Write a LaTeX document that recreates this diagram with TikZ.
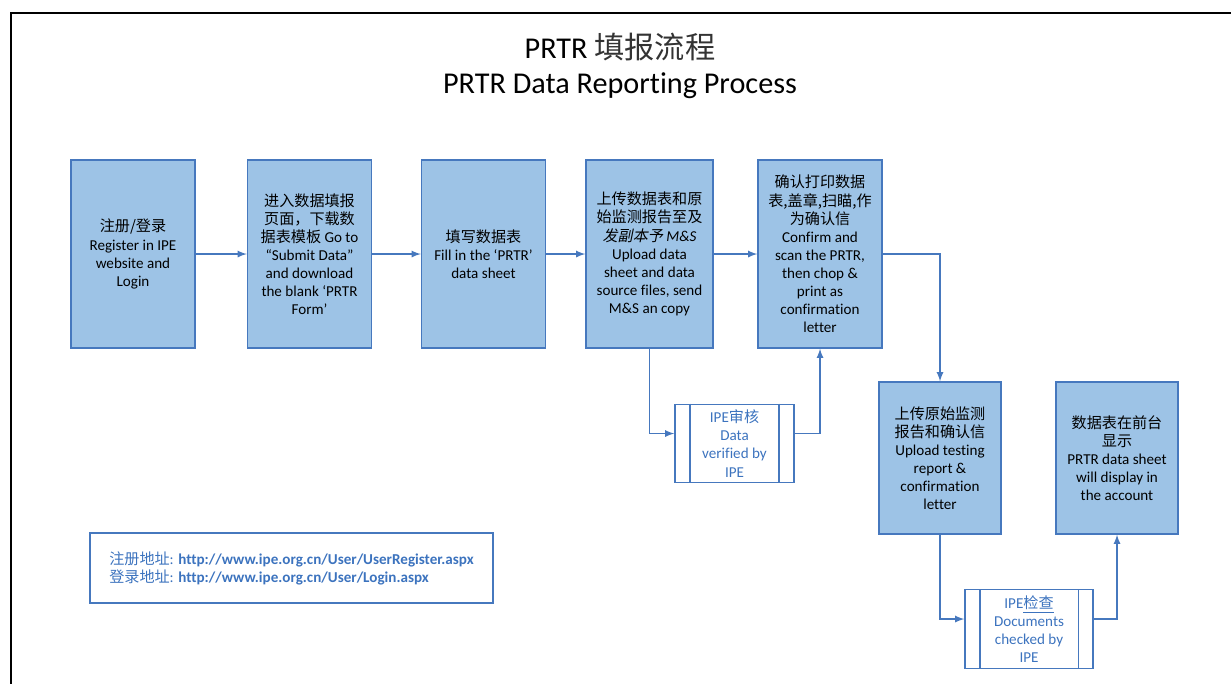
\documentclass[tikz,border=0pt]{standalone}
\usepackage{fontspec}
\setmainfont{Carlito}[Ligatures=NoCommon]
\newfontfamily\cjk{Noto Sans CJK SC}
\newfontfamily\cjkit{Noto Sans CJK SC}[FakeSlant=0.2]
\definecolor{boxfill}{RGB}{157,195,230}
\definecolor{boxline}{RGB}{70,120,190}
\definecolor{ipetext}{RGB}{60,115,190}
\tikzset{
   stepbox/.style={draw=boxline, line width=0.8pt, fill=boxfill, align=center,
      minimum width=2.48cm, minimum height=3.76cm, inner sep=1pt,
      font=\fontsize{8.6}{10.3}\selectfont},
   checkbox/.style={draw=boxline, line width=0.8pt, align=center, text=ipetext,
      minimum height=1.57cm, inner sep=1pt, font=\fontsize{8.6}{10.3}\selectfont},
   arr/.style={draw=boxline, line width=0.8pt, ->, >=latex}
}
\begin{document}
\begin{tikzpicture}[x=0.02cm, y=-0.02cm]
   \useasboundingbox (0,0) rectangle (1231,684);
   \draw[line width=1.1pt] (1231,13) -- (11,13) -- (11,684);

   \node[anchor=base, font=\fontsize{17.2}{18}\selectfont] (T1) at (620,58) {PRTR {\cjk\color{black!80} 填报流程}};
   \node[anchor=base, font=\fontsize{17.2}{18}\selectfont] (T2) at (620,93) {PRTR Data Reporting Process};

   \node[stepbox] (A) at (133,254) {{\cjk 注册/登录}\\Register in IPE\\website and\\Login};
   \node[stepbox] (B) at (309.5,254) {{\cjk 进入数据填报}\\{\cjk 页面，下载数}\\{\cjk 据表模板} Go to\\“Submit Data”\\and download\\the blank ‘PRTR\\Form’};
   \node[stepbox] (C) at (483.5,254) {{\cjk 填写数据表}\\Fill in the ‘PRTR’\\data sheet};
   \node[stepbox, minimum width=2.54cm] (D) at (649.5,254) {{\cjk 上传数据表和原}\\{\cjk 始监测报告至及}\\{\cjkit 发副本予} \textit{M\&S}\\Upload data\\sheet and data\\source files, send\\M\&S an copy};
   \node[stepbox] (E) at (820,254) {{\cjk 确认打印数据}\\{\cjk 表,盖章,扫瞄,作}\\{\cjk 为确认信}\\Confirm and\\scan the PRTR,\\then chop \&\\print as\\confirmation\\letter};
   \node[stepbox, minimum width=2.44cm, minimum height=3.04cm] (F) at (940,458) {{\cjk 上传原始监测}\\{\cjk 报告和确认信}\\Upload testing\\report \&\\confirmation\\letter};
   \node[stepbox, minimum width=2.44cm, minimum height=3.04cm] (G) at (1117,458) {{\cjk 数据表在前台}\\{\cjk 显示}\\PRTR data sheet\\will display in\\the account};

   \node[checkbox, minimum width=2.38cm] (V) at (734.5,443.5) {IPE{\cjk 审核}\\Data\\verified by\\IPE};
   \node[checkbox, minimum width=2.56cm] (W) at (1029,629) {IPE{\cjk\underline{检查}}\\Documents\\checked by\\IPE};
   \foreach \n in {V,W} {
      \draw[boxline, line width=0.8pt] ([xshift=.31cm]\n.north west) -- ([xshift=.31cm]\n.south west);
      \draw[boxline, line width=0.8pt] ([xshift=-.31cm]\n.north east) -- ([xshift=-.31cm]\n.south east);
   }

   \node[draw=boxline, line width=0.8pt, align=left, text=ipetext, minimum width=8.06cm, minimum height=1.4cm,
      font=\fontsize{8.6}{10.3}\selectfont] (U) at (291.5,568)
      {{\cjk 注册地址}: \textbf{http://www.ipe.org.cn/User/UserRegister.aspx}\\{\cjk 登录地址}: \textbf{http://www.ipe.org.cn/User/Login.aspx}};

   \draw[arr] (A) -- (B);
   \draw[arr] (B) -- (C);
   \draw[arr] (C) -- (D);
   \draw[arr] (D) -- (E);
   \draw[arr] (E) -| (F);
   \draw[arr] (D.south) |- ([yshift=2mm]V.west);
   \draw[arr] ([yshift=2mm]V.east) -| (E.south);
   \draw[arr] (F.south) |- ([yshift=2mm]W.west);
   \draw[arr] ([yshift=2mm]W.east) -| (G.south);

\end{tikzpicture}
\end{document}
